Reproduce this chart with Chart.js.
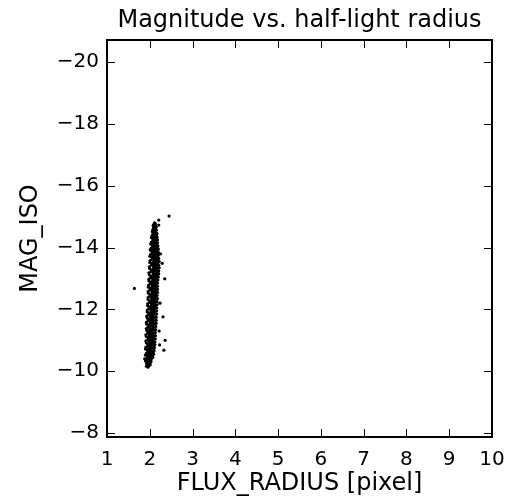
<!DOCTYPE html>
<html>
<head>
<meta charset="utf-8">
<script src="https://cdn.jsdelivr.net/npm/chart.js@4/dist/chart.umd.min.js"></script>
<style>
  html, body { margin: 0; padding: 0; background: #fff; }
  #wrap { width: 509px; height: 502px; }
</style>
</head>
<body>
<div id="wrap"><canvas id="myChart"></canvas></div>
<script>
// FLUX_RADIUS (x) and MAG_ISO (y), row by row up the stellar locus
const fluxRadius = [
    1.92, 1.95, 1.99, 1.93, 2.01,
    1.90, 1.94, 1.97, 2.01, 2.03,
    1.91, 1.95, 1.99, 2.02, 2.05,
    1.90, 1.94, 1.98, 2.03, 2.07,
    1.92, 1.96, 2.00, 2.04, 2.08,
    1.90, 1.94, 1.99, 2.03, 2.09,
    1.91, 1.96, 2.01, 2.05, 2.10,
    1.92, 1.95, 1.99, 2.04, 2.08,
    1.91, 1.96, 2.00, 2.05, 2.09,
    1.92, 1.97, 2.02, 2.06, 2.10,
    1.91, 1.95, 1.99, 2.04, 2.08,
    1.93, 1.97, 2.01, 2.05, 2.10,
    1.92, 1.96, 2.00, 2.05, 2.09,
    1.93, 1.98, 2.02, 2.06, 2.11,
    1.92, 1.96, 2.01, 2.05, 2.10,
    1.94, 1.98, 2.03, 2.07, 2.11,
    1.93, 1.97, 2.01, 2.06, 2.10,
    1.94, 1.99, 2.03, 2.08, 2.12,
    1.94, 1.98, 2.02, 2.07, 2.11,
    1.95, 2.00, 2.04, 2.09, 2.13,
    1.95, 1.99, 2.03, 2.08, 2.12,
    1.96, 2.01, 2.05, 2.10, 2.14,
    1.96, 2.00, 2.04, 2.09, 2.13,
    1.97, 2.02, 2.06, 2.11, 2.15,
    1.96, 2.00, 2.05, 2.09, 2.14,
    1.97, 2.02, 2.06, 2.11, 2.15,
    1.97, 2.01, 2.05, 2.10, 2.14,
    1.98, 2.03, 2.07, 2.12, 2.16,
    1.98, 2.02, 2.07, 2.12, 2.17,
    1.99, 2.04, 2.09, 2.14, 2.18,
    1.98, 2.03, 2.08, 2.14, 2.19,
    2.00, 2.05, 2.10, 2.15, 2.20,
    1.99, 2.04, 2.09, 2.15, 2.21,
    2.00, 2.05, 2.10, 2.15, 2.20,
    2.01, 2.06, 2.11, 2.16, 2.19,
    2.00, 2.05, 2.09, 2.14, 2.18,
    2.02, 2.06, 2.11, 2.15, 2.19,
    2.01, 2.05, 2.10, 2.14, 2.18,
    2.03, 2.07, 2.11, 2.15, 2.18,
    2.02, 2.06, 2.10, 2.14, 2.17,
    2.04, 2.08, 2.12, 2.16, 2.10,
    2.04, 2.07, 2.11, 2.14, 2.17,
    2.05, 2.09, 2.12, 2.16, 2.08,
    2.06, 2.09, 2.12, 2.15, 2.11,
    2.07, 2.10, 2.13, 2.15, 2.09,
    2.08, 2.11, 2.14, 2.10, 2.13,
    // right-hand edge of the locus
    1.96, 1.99, 2.07, 2.09, 2.10, 2.11, 2.12, 2.12, 2.13, 2.13,
    2.13, 2.14, 2.14, 2.15, 2.15, 2.15, 2.16, 2.16, 2.16, 2.17,
    2.17, 2.18, 2.17, 2.18, 2.18, 2.18, 2.18, 2.19, 2.20, 2.21,
    2.21, 2.22, 2.19, 2.22, 2.21, 2.20, 2.20, 2.20, 2.19, 2.18,
    2.18, 2.15, 2.17, 2.13, 2.12, 2.11,
    // dense core, between the rows
    1.93, 1.99, 1.94, 2.00, 1.95, 2.01, 1.96, 2.02, 1.97, 2.03,
    1.97, 2.03, 1.98, 2.04, 1.98, 2.04, 1.98, 2.04, 1.99, 2.05,
    1.99, 2.05, 2.00, 2.06, 2.00, 2.06, 2.01, 2.07, 2.01, 2.07,
    2.02, 2.08, 2.02, 2.08, 2.03, 2.09, 2.03, 2.09, 2.04, 2.10,
    2.04, 2.10, 2.05, 2.11, 2.05, 2.11, 2.06, 2.12, 2.06, 2.12,
    2.06, 2.12, 2.07, 2.13, 2.07, 2.13, 2.08, 2.14, 2.08, 2.14,
    2.09, 2.15, 2.09, 2.15, 2.09, 2.15, 2.09, 2.15, 2.09, 2.15,
    2.08, 2.14, 2.09, 2.15, 2.08, 2.14, 2.09, 2.15, 2.08, 2.14,
    2.09, 2.15, 2.08, 2.14, 2.08, 2.14, 2.09, 2.15, 2.09, 2.15,
    // stragglers
    1.64, 2.45, 2.21, 2.35, 2.29, 2.31, 2.36, 2.33, 2.23, 2.21,
    2.25, 2.24, 2.22, 1.88
];
const magIso = [
    -10.16, -10.23, -10.19, -10.25, -10.21,
    -10.33, -10.28, -10.31, -10.27, -10.32,
    -10.38, -10.43, -10.41, -10.37, -10.42,
    -10.52, -10.47, -10.51, -10.48, -10.53,
    -10.58, -10.63, -10.61, -10.57, -10.62,
    -10.72, -10.68, -10.71, -10.67, -10.73,
    -10.78, -10.83, -10.81, -10.77, -10.82,
    -10.92, -10.88, -10.91, -10.87, -10.93,
    -10.98, -11.03, -11.01, -10.97, -11.02,
    -11.12, -11.08, -11.11, -11.07, -11.13,
    -11.18, -11.23, -11.21, -11.17, -11.22,
    -11.32, -11.28, -11.31, -11.27, -11.33,
    -11.38, -11.43, -11.41, -11.37, -11.42,
    -11.52, -11.48, -11.51, -11.47, -11.53,
    -11.58, -11.63, -11.61, -11.57, -11.62,
    -11.72, -11.68, -11.71, -11.67, -11.73,
    -11.78, -11.83, -11.81, -11.77, -11.82,
    -11.92, -11.88, -11.91, -11.87, -11.93,
    -11.98, -12.03, -12.01, -11.97, -12.02,
    -12.12, -12.08, -12.11, -12.07, -12.13,
    -12.18, -12.23, -12.21, -12.17, -12.22,
    -12.32, -12.28, -12.31, -12.27, -12.33,
    -12.38, -12.43, -12.41, -12.37, -12.42,
    -12.52, -12.48, -12.51, -12.47, -12.53,
    -12.58, -12.63, -12.61, -12.57, -12.62,
    -12.72, -12.68, -12.71, -12.67, -12.73,
    -12.78, -12.83, -12.81, -12.77, -12.82,
    -12.92, -12.88, -12.91, -12.87, -12.93,
    -12.98, -13.03, -13.01, -12.97, -13.02,
    -13.12, -13.08, -13.11, -13.07, -13.13,
    -13.18, -13.23, -13.21, -13.17, -13.22,
    -13.32, -13.28, -13.31, -13.27, -13.33,
    -13.38, -13.43, -13.41, -13.37, -13.42,
    -13.52, -13.48, -13.51, -13.47, -13.53,
    -13.58, -13.63, -13.61, -13.57, -13.62,
    -13.72, -13.68, -13.71, -13.67, -13.73,
    -13.78, -13.83, -13.81, -13.77, -13.82,
    -13.92, -13.88, -13.91, -13.87, -13.93,
    -13.98, -14.03, -14.01, -13.97, -14.02,
    -14.12, -14.08, -14.11, -14.07, -14.13,
    -14.18, -14.23, -14.21, -14.17, -14.26,
    -14.32, -14.28, -14.31, -14.27, -14.33,
    -14.38, -14.43, -14.41, -14.37, -14.46,
    -14.52, -14.48, -14.51, -14.47, -14.55,
    -14.58, -14.63, -14.61, -14.57, -14.66,
    -14.72, -14.68, -14.71, -14.76, -14.78,
    // right-hand edge of the locus
    -10.13, -10.35, -10.45, -10.55, -10.66, -10.75, -10.86, -10.95, -11.05, -11.15,
    -11.25, -11.35, -11.45, -11.55, -11.65, -11.75, -11.85, -11.95, -12.05, -12.15,
    -12.25, -12.35, -12.45, -12.55, -12.65, -12.75, -12.85, -12.95, -13.05, -13.15,
    -13.25, -13.35, -13.45, -13.55, -13.65, -13.75, -13.85, -13.95, -14.05, -14.15,
    -14.25, -14.35, -14.45, -14.62, -14.68, -14.80,
    // dense core, between the rows
    -10.25, -10.26, -10.35, -10.36, -10.45, -10.46, -10.55, -10.56, -10.65, -10.66,
    -10.75, -10.76, -10.85, -10.86, -10.95, -10.96, -11.05, -11.06, -11.15, -11.16,
    -11.25, -11.26, -11.35, -11.36, -11.45, -11.46, -11.55, -11.56, -11.65, -11.66,
    -11.75, -11.76, -11.85, -11.86, -11.95, -11.96, -12.05, -12.06, -12.15, -12.16,
    -12.25, -12.26, -12.35, -12.36, -12.45, -12.46, -12.55, -12.56, -12.65, -12.66,
    -12.75, -12.76, -12.85, -12.86, -12.95, -12.96, -13.05, -13.06, -13.15, -13.16,
    -13.25, -13.26, -13.35, -13.36, -13.45, -13.46, -13.55, -13.56, -13.65, -13.66,
    -13.75, -13.76, -13.85, -13.86, -13.95, -13.96, -14.05, -14.06, -14.15, -14.16,
    -14.25, -14.26, -14.35, -14.36, -14.45, -14.46, -14.55, -14.56, -14.65, -14.66,
    // stragglers
    -12.68, -15.02, -14.89, -12.99, -13.49, -11.76, -11.00, -10.68, -10.85, -14.73,
    -13.80, -12.20, -11.30, -10.40
];
const xTicks = [1, 2, 3, 4, 5, 6, 7, 8, 9, 10];
const yTicks = [-8, -10, -12, -14, -16, -18, -20];

const font = "'DejaVu Sans', sans-serif";
const points = fluxRadius.map((x, i) => ({ x: x, y: magIso[i] }));

// matplotlib-style frame with inward ticks on all four sides
const framePlugin = {
    id: 'frame',
    afterDraw(chart) {
        const { ctx, chartArea: a, scales } = chart;
        ctx.save();
        ctx.strokeStyle = '#000';
        ctx.lineWidth = 1;
        ctx.beginPath();
        scales.x.ticks.forEach(t => {
            const px = Math.round(scales.x.getPixelForValue(t.value)) + 0.5;
            ctx.moveTo(px, a.bottom); ctx.lineTo(px, a.bottom - 8);
            ctx.moveTo(px, a.top); ctx.lineTo(px, a.top + 8);
        });
        scales.y.ticks.forEach(t => {
            const py = Math.round(scales.y.getPixelForValue(t.value)) + 0.5;
            ctx.moveTo(a.left, py); ctx.lineTo(a.left + 8, py);
            ctx.moveTo(a.right, py); ctx.lineTo(a.right - 8, py);
        });
        ctx.stroke();
        ctx.lineWidth = 2;
        ctx.strokeRect(a.left, a.top, a.right - a.left, a.bottom - a.top);
        ctx.restore();
    }
};

new Chart(document.getElementById('myChart'), {
    type: 'scatter',
    data: {
        datasets: [{
            data: points,
            pointBackgroundColor: '#000',
            pointBorderColor: '#000',
            pointBorderWidth: 0,
            pointRadius: 1.6,
            pointHoverRadius: 1.6
        }]
    },
    options: {
        responsive: true,
        maintainAspectRatio: false,
        animation: false,
        layout: { padding: { left: 0, right: 17, top: 0, bottom: 0 } },
        plugins: {
            legend: { display: false },
            tooltip: { enabled: false },
            title: {
                display: true,
                fullSize: false,
                text: 'Magnitude vs. half-light radius',
                color: '#000',
                font: { family: font, size: 24, weight: 'normal' },
                padding: { top: 6, bottom: 5.2 }
            }
        },
        scales: {
            x: {
                type: 'linear',
                min: 1,
                max: 10,
                afterBuildTicks: s => { s.ticks = xTicks.map(v => ({ value: v })); },
                afterFit: s => { s.height = 65; s.paddingLeft = 0; s.paddingRight = 0; },
                grid: { display: false, drawTicks: false },
                border: { display: false },
                ticks: {
                    color: '#000',
                    padding: 11,
                    maxRotation: 0,
                    font: { family: font, size: 20 }
                },
                title: {
                    display: true,
                    text: 'FLUX_RADIUS [pixel]',
                    color: '#000',
                    font: { family: font, size: 24 },
                    padding: { top: 0, bottom: 4 }
                }
            },
            y: {
                type: 'linear',
                min: -20.72,
                max: -7.87,
                reverse: true,
                afterBuildTicks: s => { s.ticks = yTicks.map(v => ({ value: v })); },
                afterFit: s => { s.width = 107; s.paddingTop = 0; s.paddingBottom = 0; },
                grid: { display: false, drawTicks: false },
                border: { display: false },
                ticks: {
                    color: '#000',
                    padding: 8,
                    font: { family: font, size: 20 },
                    callback: v => String(v).replace('-', '\u2212')
                },
                title: {
                    display: true,
                    text: 'MAG_ISO',
                    color: '#000',
                    font: { family: font, size: 24 },
                    padding: { top: 16, bottom: 0 }
                }
            }
        }
    },
    plugins: [framePlugin]
});
</script>
</body>
</html>
